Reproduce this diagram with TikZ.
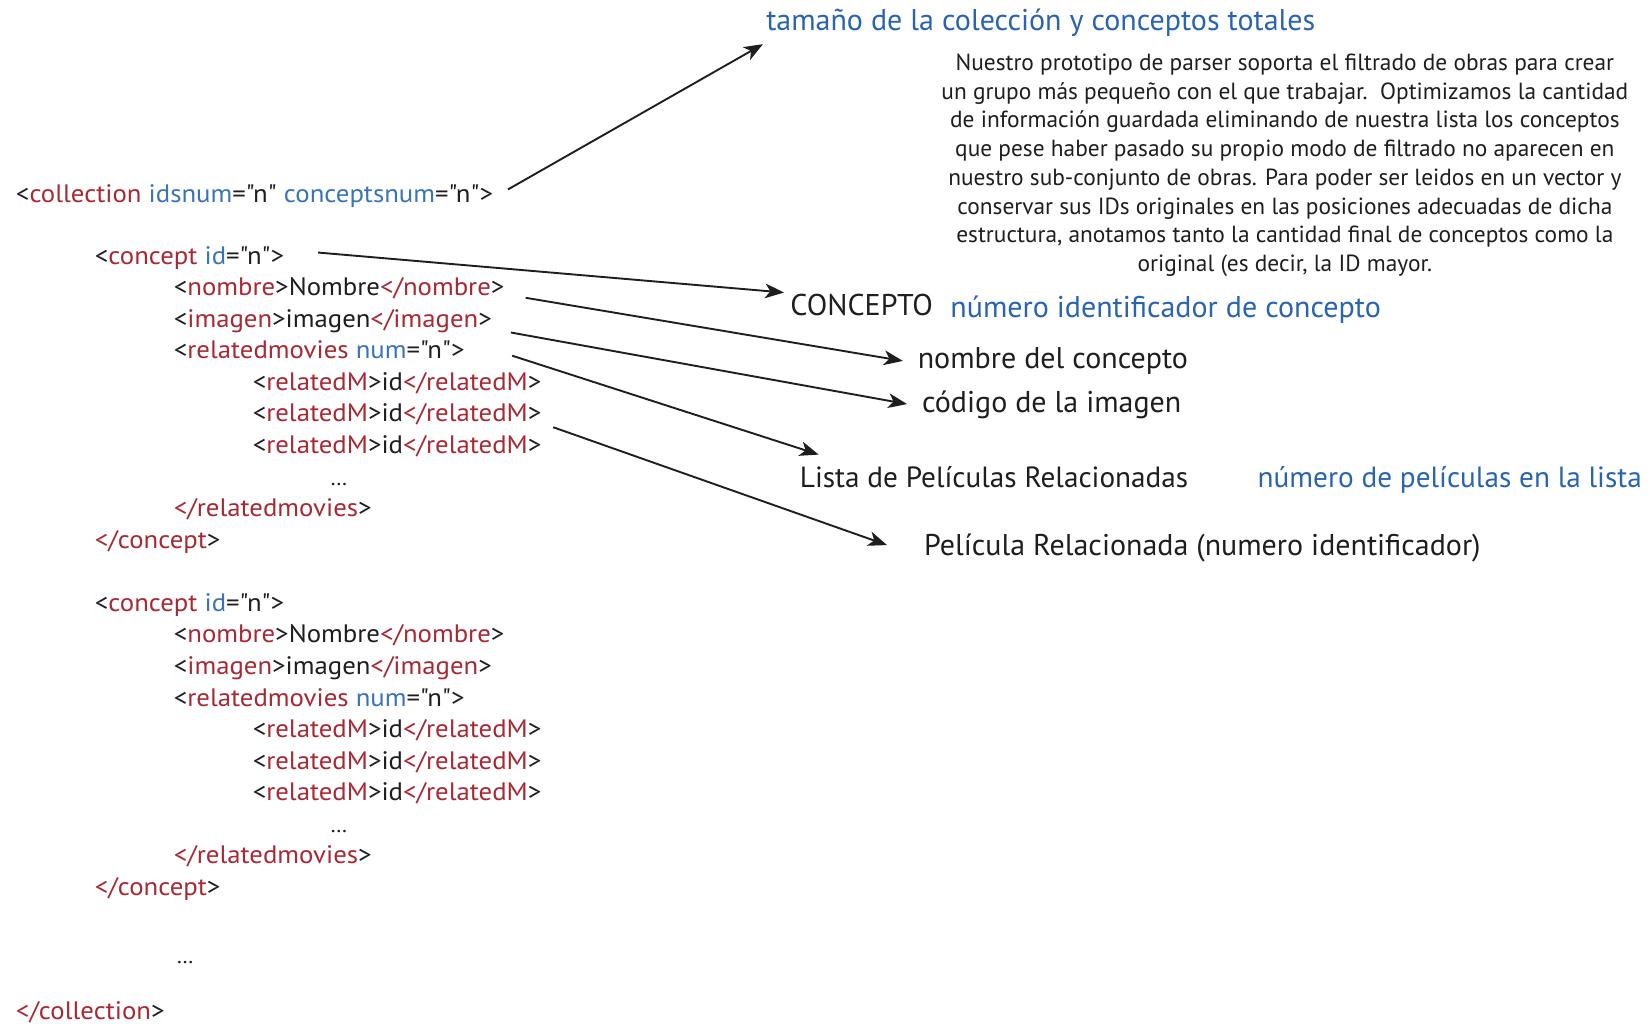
\documentclass[tikz,border=0pt]{standalone}
\usepackage{fontspec}
\setmainfont{PT Sans}[Ligatures=TeXOff]
\newfontfamily\codefont[FakeStretch=1.06,Ligatures=TeXOff]{PT Sans}
\usetikzlibrary{calc,arrows.meta}

\definecolor{tagred}{RGB}{168,40,52}
\definecolor{attblue}{RGB}{58,116,184}
\definecolor{headblue}{RGB}{40,100,176}
\definecolor{ink}{RGB}{30,30,30}

% XML syntax colouring
\newcommand{\tg}[1]{\textcolor{tagred}{#1}}
\newcommand{\atr}[1]{\textcolor{attblue}{#1}}

\tikzset{
  code/.style={anchor=west, inner sep=0pt, text=ink, font=\codefont\fontsize{24}{26}\selectfont,
               text height=17pt, text depth=5pt},
  dots/.style={code, anchor=center},
  note/.style={anchor=west, inner sep=0pt, text=ink, font=\fontsize{28.5}{31}\selectfont,
               text height=20pt, text depth=6pt},
  smallnote/.style={note, font=\fontsize{27.8}{31}\selectfont},
  bluenote/.style={note, text=headblue},
  arr/.style={-{Stealth[length=18pt,width=14pt,inset=5pt]}, line width=1.8pt, draw=ink}
}

\begin{document}
\begin{tikzpicture}[x=1pt,y=-1pt]
\useasboundingbox[fill=white] (0,0) rectangle (1568,973);

% ---- XML listing ----
\node[code] (coll) at (15,186) {<\tg{collection} \atr{idsnum}="n" \atr{conceptsnum}="n">};

\node[code] (cA)  at (90,245)  {<\tg{concept} \atr{id}="n">};
\node[code] (nA)  at (165,275) {<\tg{nombre}>Nombre\tg{</nombre}>};
\node[code] (iA)  at (165,305) {<\tg{imagen}>imagen\tg{</imagen}>};
\node[code] (rA)  at (165,335) {<\tg{relatedmovies} \atr{num}="n">};
\node[code] (m1A) at (240,365) {<\tg{relatedM}>id\tg{</relatedM}>};
\node[code] (m2A) at (240,395) {<\tg{relatedM}>id\tg{</relatedM}>};
\node[code] (m3A) at (240,425) {<\tg{relatedM}>id\tg{</relatedM}>};
\node[dots] (dA)  at (322,455) {\fontsize{20}{22}\selectfont\dots};
\node[code] (erA) at (165,485) {\tg{</relatedmovies}>};
\node[code] (ecA) at (90,515)  {\tg{</concept}>};

\node[code] (cB)  at (90,575)  {<\tg{concept} \atr{id}="n">};
\node[code] (nB)  at (165,605) {<\tg{nombre}>Nombre\tg{</nombre}>};
\node[code] (iB)  at (165,635) {<\tg{imagen}>imagen\tg{</imagen}>};
\node[code] (rB)  at (165,665) {<\tg{relatedmovies} \atr{num}="n">};
\node[code] (m1B) at (240,695) {<\tg{relatedM}>id\tg{</relatedM}>};
\node[code] (m2B) at (240,725) {<\tg{relatedM}>id\tg{</relatedM}>};
\node[code] (m3B) at (240,755) {<\tg{relatedM}>id\tg{</relatedM}>};
\node[dots] (dB)  at (322,785) {\fontsize{20}{22}\selectfont\dots};
\node[code] (erB) at (165,815) {\tg{</relatedmovies}>};
\node[code] (ecB) at (90,845)  {\tg{</concept}>};

\node[dots] (dC)  at (176,910) {\fontsize{20}{22}\selectfont\dots};
\node[code] (ecoll) at (15,963) {\tg{</collection}>};

% ---- annotations ----
\node[bluenote] (tam) at (728,22) {tamaño de la colección y conceptos totales};

\node[anchor=center, inner sep=0pt, align=center, text=ink,
      font=\fontsize{22.2}{27.3}\selectfont] (par) at (1221,157)
  {Nuestro prototipo de parser soporta el filtrado de obras para crear\\
   un grupo más pequeño con el que trabajar.\ \ Optimizamos la cantidad\\
   de información guardada eliminando de nuestra lista los conceptos\\
   que pese haber pasado su propio modo de filtrado no aparecen en\\
   nuestro sub-conjunto de obras. Para poder ser leidos en un vector y\\
   conservar sus IDs originales en las posiciones adecuadas de dicha\\
   estructura, anotamos tanto la cantidad final de conceptos como la\\
   original (es decir, la ID mayor.};

\node[note] (conc) at (751,293) {CONCEPTO};
\node[bluenote] (numid) at (903,295) {número identificador de concepto};
\node[note] (nomc) at (872,343) {nombre del concepto};
\node[note] (cod) at (876,385) {código de la imagen};
\node[smallnote] (lista) at (760,456) {Lista de Películas Relacionadas};
\node[smallnote, text=headblue] (numpel) at (1195,456) {número de películas en la lista};
\node[note] (pelr) at (878,521) {Película Relacionada (numero identificador)};

% ---- connectors ----
\draw[arr] ($(coll.east)+(14,-6)$) -- ($(tam.west)+(-3,20)$);
\draw[arr] ($(cA.east)+(32,-5)$)   -- ($(conc.west)+(-6,-15)$);
\draw[arr] ($(nA.east)+(20,8)$)    -- ($(nomc.west)+(-14,0)$);
\draw[arr] ($(iA.east)+(18,11)$)   -- ($(cod.west)+(-14,-1)$);
\draw[arr] ($(rA.east)+(45,3)$)    -- ($(lista.west)+(18,-24)$);
\draw[arr] ($(m2A.east)+(11,11)$)  -- ($(pelr.west)+(-35,-3)$);
\end{tikzpicture}
\end{document}
